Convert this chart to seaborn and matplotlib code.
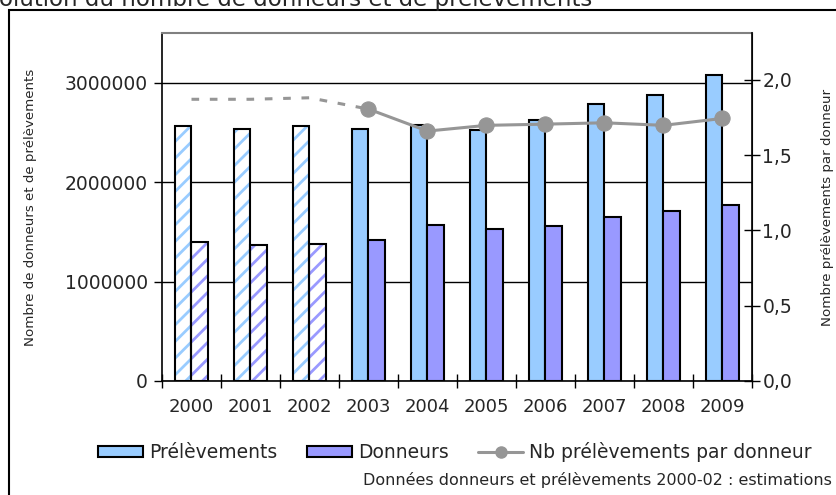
import numpy as np
import pandas as pd
import matplotlib
matplotlib.use('Agg')
import matplotlib.pyplot as plt
import matplotlib.ticker as mticker
from matplotlib.patches import Rectangle, Patch
from matplotlib.lines import Line2D
import seaborn as sns

# Data
years = ['2000', '2001', '2002', '2003', '2004', '2005', '2006', '2007', '2008', '2009']
prelevements = [2568000, 2538000, 2568000, 2538000, 2571000, 2528000, 2628000, 2790000, 2880000, 3075000]
donneurs = [1393000, 1363000, 1380000, 1420000, 1571000, 1528000, 1560000, 1648000, 1705000, 1775000]
ratio = [1.87, 1.87, 1.88, 1.805, 1.659, 1.697, 1.705, 1.714, 1.697, 1.743]
estimated_years = ['2000', '2001', '2002']

series_names = ['Prélèvements', 'Donneurs']
colors = ['#99CCFF', '#9999FF']
line_color = '#969696'

sns.set_style('white')
plt.rcParams['font.family'] = ['DejaVu Sans']
plt.rcParams['hatch.linewidth'] = 2.0

df = pd.DataFrame({
    'Année': years * 2,
    'Valeur': prelevements + donneurs,
    'Série': [series_names[0]] * len(years) + [series_names[1]] * len(years),
})

W, H = 837, 495
fig = plt.figure(figsize=(W / 100, H / 100), dpi=100)
ax = fig.add_axes([162 / W, 1 - 381 / H, 590 / W, 348 / H])

sns.barplot(data=df, x='Année', y='Valeur', hue='Série', palette=colors,
            saturation=1, width=0.57, gap=0, edgecolor='black', linewidth=1.5,
            legend=False, ax=ax, zorder=2)

# hatched bars for the estimated years (colored stripes + black outline)
n = len(years)
for i, p in enumerate(ax.patches[:2 * n]):
    yr = years[i % n]
    col = colors[i // n]
    if yr in estimated_years:
        p.set_facecolor('white')
        p.set_edgecolor(col)
        p.set_hatch('//')
        p.set_linewidth(0)
        ax.add_patch(Rectangle(p.get_xy(), p.get_width(), p.get_height(),
                               fill=False, edgecolor='black', lw=1.5, zorder=3))

ax.set_ylim(0, 3500000)
ax.set_xlim(-0.5, n - 0.5)
ax.set_yticks([0, 1000000, 2000000, 3000000])
ax.yaxis.set_major_formatter(mticker.FuncFormatter(lambda v, _: f'{int(v)}'))
ax.yaxis.grid(True, color='black', lw=1)
ax.set_axisbelow(True)
ax.set_xlabel('')
ax.set_ylabel('Nombre de donneurs et de prélèvements', fontsize=9.6)
ax.yaxis.set_label_coords(-0.212, 0.5)
ax.tick_params(axis='y', direction='out', length=6, width=1, color='black',
               labelsize=13.5, pad=4, left=True)
ax.tick_params(axis='x', which='major', length=0, labelsize=13, pad=12)
ax.set_xticks(np.arange(-0.5, n, 1.0), minor=True)
ax.tick_params(axis='x', which='minor', direction='inout', length=10, width=1,
               color='black', bottom=True)
for s in ['left', 'bottom']:
    ax.spines[s].set_color('black')
    ax.spines[s].set_linewidth(1.2)
ax.spines['top'].set_color('#808080')
ax.spines['top'].set_linewidth(1.5)

# ratio line on the secondary axis
ax2 = ax.twinx()
x_pos = np.arange(n)
est_idx = len(estimated_years)
sns.lineplot(x=x_pos[:est_idx + 1], y=ratio[:est_idx + 1], ax=ax2, color=line_color,
             lw=2.2, linestyle=(0, (2.5, 3.5)))
sns.lineplot(x=x_pos[est_idx:], y=ratio[est_idx:], ax=ax2, color=line_color,
             lw=2.2, marker='o', markersize=11, markeredgecolor=line_color)
ax2.set_ylim(0, 2.31)
ax2.set_xlim(-0.5, n - 0.5)
ax2.set_yticks([0, 0.5, 1.0, 1.5, 2.0])
ax2.yaxis.set_major_formatter(mticker.FuncFormatter(lambda v, _: f'{v:.1f}'.replace('.', ',')))
ax2.tick_params(axis='y', direction='inout', length=11, width=1, color='black',
                labelsize=13.5, pad=2, right=True)
ax2.set_ylabel('Nombre prélèvements par donneur', fontsize=9.6)
ax2.yaxis.set_label_coords(1.117, 0.5)
ax2.spines['right'].set_color('black')
ax2.spines['right'].set_linewidth(1.2)
ax2.spines['top'].set_visible(False)
for s in ['left', 'bottom']:
    ax2.spines[s].set_visible(False)

# legend
handles = [
    Patch(facecolor=colors[0], edgecolor='black', lw=1.5),
    Patch(facecolor=colors[1], edgecolor='black', lw=1.5),
    Line2D([], [], color=line_color, lw=2.2, marker='o', markersize=8),
]
fig.legend(handles, ['Prélèvements', 'Donneurs', 'Nb prélèvements par donneur'],
           loc='center', bbox_to_anchor=(455 / W, 1 - 452 / H), ncol=3, frameon=False,
           fontsize=13.5, handlelength=2.4, handleheight=0.5, handletextpad=0.3,
           columnspacing=1.6)

fig.text(832 / W, 1 - 480 / H, 'Données donneurs et prélèvements 2000-02 : estimations',
         ha='right', va='center', fontsize=11.5)

# clipped title and outer frame
fig.text(592 / W, 1 - 6 / H, 'Évolution du nombre de donneurs et de prélèvements',
         ha='right', va='baseline', fontsize=16.5)
fig.add_artist(Rectangle((9 / W, -0.1), 1.2, 1.1 - 10 / H, transform=fig.transFigure,
                         fill=False, edgecolor='black', lw=1.5, clip_on=False))

fig.savefig('out.png', dpi=100)
